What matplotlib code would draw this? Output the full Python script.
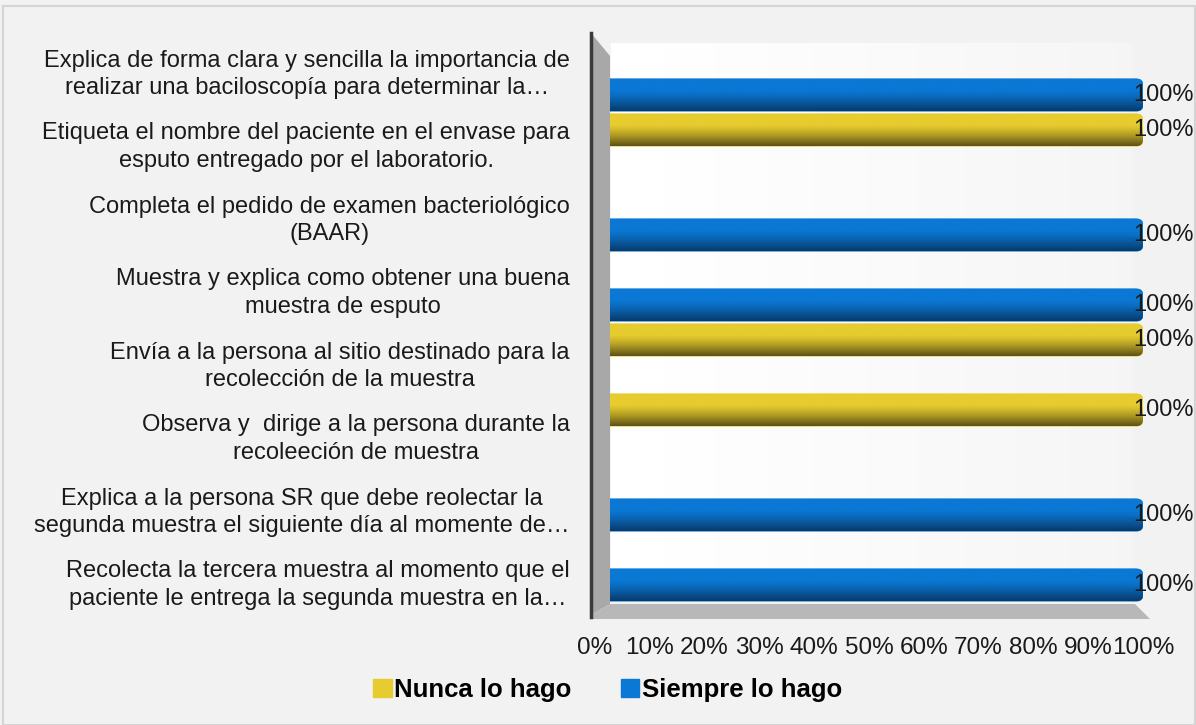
import numpy as np
import matplotlib
matplotlib.use("Agg")
import matplotlib.pyplot as plt
from matplotlib.patches import FancyBboxPatch, Polygon, Rectangle
from matplotlib.colors import to_rgb

plt.rcParams['font.family'] = ['Liberation Sans', 'DejaVu Sans']

categorias = [
    "Explica de forma clara y sencilla la importancia de\nrealizar una baciloscopía para determinar la…",
    "Etiqueta el nombre del paciente en el envase para\nesputo entregado por el laboratorio.",
    "Completa el pedido de examen bacteriológico\n(BAAR)",
    "Muestra y explica como obtener una buena\nmuestra de esputo",
    "Envía a la persona al sitio destinado para la\nrecolección de la muestra",
    "Observa y  dirige a la persona durante la\nrecoleeción de muestra",
    "Explica a la persona SR que debe reolectar la\nsegunda muestra el siguiente día al momente de…",
    "Recolecta la tercera muestra al momento que el\npaciente le entrega la segunda muestra en la…",
]
nunca = [0, 100, 0, 0, 100, 100, 0, 0]
siempre = [100, 0, 100, 100, 0, 0, 100, 100]
series = ["Nunca lo hago", "Siempre lo hago"]
colores = ["#e6cc2e", "#0a78d4"]
oscuros = ["#5e5216", "#083a6a"]
xticks = [0, 10, 20, 30, 40, 50, 60, 70, 80, 90, 100]

W, H = 1196, 725
fig = plt.figure(figsize=(W / 100, H / 100), dpi=100)
fig.patch.set_facecolor("#f2f2f2")
fig.add_artist(Rectangle((3 / W, 0), 1 - 4 / W, 1 - 6 / H, transform=fig.transFigure,
                         fill=False, edgecolor="#d4d4d4", linewidth=1.5))

# 3D side wall and floor
fig.add_artist(Polygon([(591 / W, 1 - 33 / H), (610 / W, 1 - 56 / H), (610 / W, 1 - 604 / H),
                        (591 / W, 1 - 615 / H)], closed=True, transform=fig.transFigure,
                       facecolor="#a8a8a8", edgecolor="none"))
fig.add_artist(Polygon([(591 / W, 1 - 615 / H), (610 / W, 1 - 604 / H), (1135 / W, 1 - 604 / H),
                        (1150 / W, 1 - 619 / H), (591 / W, 1 - 619 / H)], closed=True,
                       transform=fig.transFigure, facecolor="#b8b8b8", edgecolor="none"))
fig.add_artist(plt.Line2D([591 / W, 591 / W], [1 - 33 / H, 1 - 617 / H], transform=fig.transFigure,
                          color="#3a3a3a", linewidth=2.5))

y = np.arange(len(categorias))

# category labels sit on the front plane (slightly different spacing than the bars)
ax_lab = fig.add_axes([595 / W, 1 - 616.5 / H, 548 / W, 584 / H])
ax_lab.set_facecolor("none")
ax_lab.set_ylim(7.5, -0.5)
ax_lab.set_yticks(y)
ax_lab.set_yticklabels(categorias, fontsize=17, multialignment="center", color="#1a1a1a",
                       linespacing=1.35)
ax_lab.tick_params(axis="y", length=0, pad=18)
ax_lab.set_xticks([])
for s in ax_lab.spines.values():
    s.set_visible(False)

ax = fig.add_axes([595 / W, 1 - 602.5 / H, 548 / W, 560 / H])
ax.set_facecolor("none")

# wall gradient
wall = np.linspace(1.0, 0.96, 100)[None, :] * np.ones((20, 1))
ax.imshow(wall, cmap="gray", vmin=0, vmax=1, extent=(3, 98, 7.5, -0.62), aspect="auto", zorder=0)

h = 0.46
bars_n = ax.barh(y - 0.25, nunca, height=h, color="none")
bars_s = ax.barh(y + 0.25, siempre, height=h, color="none")

for bars, c, d in [(bars_n, colores[0], oscuros[0]), (bars_s, colores[1], oscuros[1])]:
    c1 = np.array(to_rgb(c))
    c0 = np.array(to_rgb(d))
    t = np.linspace(0, 1, 40)
    w = np.clip((t - 0.35) / 0.65, 0, 1) ** 1.3
    grad = (c1[None, :] * (1 - w[:, None]) + c0[None, :] * w[:, None])[:, None, :]
    for r in bars:
        if r.get_width() <= 0:
            continue
        x0, y0, bw, bh = r.get_x(), r.get_y(), r.get_width(), r.get_height()
        p = FancyBboxPatch((x0, y0), bw, bh, boxstyle="round,pad=0,rounding_size=1.2",
                           mutation_aspect=0.078, facecolor=c, edgecolor=c, linewidth=0.6, zorder=2)
        ax.add_patch(p)
        im = ax.imshow(grad, extent=(x0, x0 + bw, y0 + bh, y0), aspect="auto", zorder=3)
        im.set_clip_path(p)
        ax.text(x0 + bw - 1.8, y0 + bh / 2, "100%", ha="left", va="center", fontsize=17,
                color="#1a1a1a", zorder=4)

ax.set_xlim(0, 100)
ax.set_ylim(7.5, -0.5)
ax.set_yticks([])
ax.set_xticks(xticks)
ax.set_xticklabels([f"{v}%" for v in xticks], fontsize=17.5, color="#1a1a1a")
ax.tick_params(axis="x", length=0, pad=25)
for s in ax.spines.values():
    s.set_visible(False)

handles = [Rectangle((0, 0), 1, 1, color=c) for c in colores]
fig.legend(handles, series, loc="center", bbox_to_anchor=(0.508, 1 - 690 / H), ncol=2,
           frameon=False, prop={"weight": "bold", "size": 18.5}, handlelength=0.72,
           handleheight=0.72, handletextpad=0.1, columnspacing=1.9)

fig.savefig("out.png", dpi=100, facecolor=fig.get_facecolor())
